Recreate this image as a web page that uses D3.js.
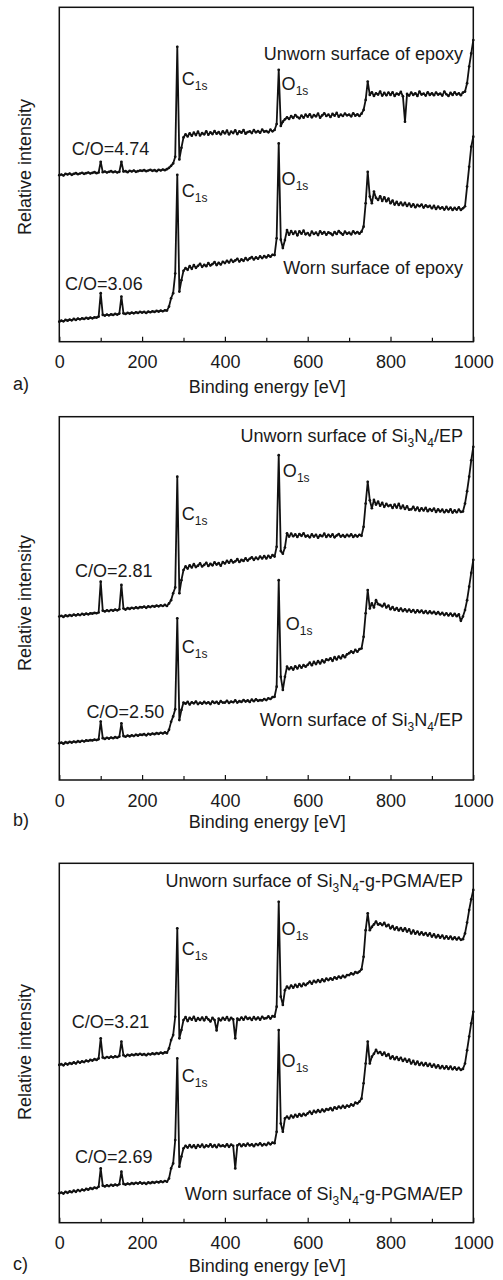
<!DOCTYPE html>
<html><head><meta charset="utf-8">
<script src="https://cdn.jsdelivr.net/npm/d3@7"></script>
<style>
body{margin:0;background:#fff}
text{font-family:"Liberation Sans",Arial,Helvetica,sans-serif;fill:#1a1a1a}
</style>
</head><body>
<svg id="chart" width="503" height="1280"></svg>
<script>
// ---------- DATA ----------
// Binding-energy sampling grid of the survey spectra (eV)
const energies = d3.range(0, 1001, 5);
const xTicksMajor = [0, 200, 400, 600, 800, 1000];
const xTicksMinor = [100, 300, 500, 700, 900];
const panelLetters = ["a)", "b)", "c)"];
const xTitle = "Binding energy [eV]";
const yTitle = "Relative intensity";

// Relative intensity (a.u., 0-100 per panel) at each grid energy
const unwornEpoxy = [
49.8,50.0,49.7,50.2,50.0,50.3,49.9,50.2,50.4,50.1,50.3,50.5,50.2,50.4,50.6,50.3,50.5,50.7,50.4,50.6,
53.8,50.7,50.9,50.6,50.8,51.0,50.7,50.9,50.6,50.8,53.8,50.9,51.0,50.7,51.1,50.9,51.2,50.8,51.0,51.2,
51.1,51.3,51.0,51.2,51.4,51.1,51.3,51.0,51.4,51.2,51.5,51.3,51.6,52.0,52.6,53.3,55.3,88.2,54.5,58.0,
61.1,62.0,61.4,62.3,61.6,62.5,61.8,62.8,61.7,62.4,62.0,62.9,61.9,62.6,62.1,63.0,62.2,62.7,62.0,62.9,
62.3,63.1,62.0,62.8,62.4,63.2,62.1,62.9,62.5,63.3,62.2,62.7,62.9,62.4,63.3,62.6,63.0,62.5,63.4,62.8,
63.0,62.6,63.4,62.9,63.3,65.1,81.3,64.5,65.8,66.5,67.1,66.6,67.5,66.9,67.8,67.2,66.8,67.6,67.0,67.9,
67.3,68.0,67.1,67.8,67.4,68.2,67.0,67.7,68.3,67.5,67.9,67.2,68.1,67.6,68.4,67.3,67.9,67.5,68.2,67.7,
67.9,67.4,68.3,67.6,68.0,67.5,68.2,69.3,72.3,77.8,73.8,74.6,73.5,74.3,73.9,74.8,73.6,74.4,73.7,74.5,
73.8,74.6,73.5,74.2,73.9,74.7,73.4,65.8,74.1,73.6,74.5,73.8,74.3,73.5,74.8,73.9,74.2,73.6,74.6,73.8,
74.3,73.7,74.5,73.9,74.2,73.6,74.8,74.0,73.5,74.4,73.8,74.6,73.9,74.3,73.7,74.5,74.8,77.3,82.3,86.2,
90.2];
const wornEpoxy = [
6.0,6.3,6.1,6.5,6.3,6.6,6.4,6.8,6.5,6.9,6.7,7.0,6.8,7.1,6.9,7.2,7.0,7.3,7.2,7.5,
14.5,8.0,7.8,8.1,7.9,8.2,8.0,8.3,8.1,8.4,13.5,8.5,8.3,8.6,8.4,8.7,8.5,8.8,8.6,8.9,
8.7,8.9,8.6,9.0,8.8,9.1,8.9,9.2,9.0,9.3,9.1,9.4,9.3,10.5,13.0,14.5,20.4,49.9,15.0,18.4,
21.2,22.0,21.5,22.6,21.8,22.9,22.1,22.7,23.3,22.4,23.0,22.6,23.5,22.8,23.2,23.8,22.9,23.6,23.1,23.9,
23.5,24.2,23.7,24.5,23.9,24.3,24.8,24.0,24.6,24.2,25.0,24.4,24.9,25.3,24.6,25.2,24.8,25.5,25.0,25.6,
25.2,25.8,25.4,26.0,25.9,30.9,59.3,30.5,28.0,30.4,33.4,32.0,33.1,32.2,32.9,31.8,33.0,32.3,33.2,32.1,
32.5,31.8,32.9,32.2,32.6,31.9,33.0,32.3,32.8,32.0,32.7,32.4,31.9,32.8,32.2,33.1,32.5,32.0,32.9,32.3,
32.6,32.1,33.0,32.4,32.8,32.3,32.9,34.4,41.4,50.8,43.4,41.4,44.9,43.0,42.4,43.5,42.1,43.2,42.0,42.8,
41.4,42.2,41.0,41.8,40.9,41.6,40.8,41.5,40.6,41.3,40.4,41.1,40.2,40.9,40.5,41.0,40.1,40.8,40.3,40.6,
39.9,40.6,39.7,40.4,39.8,40.2,39.5,40.3,39.6,40.1,39.4,40.0,39.5,40.2,39.4,39.9,40.5,46.4,52.3,58.3,
61.3];
const unwornSiEP = [
45.0,45.2,44.9,45.3,45.1,45.4,45.2,45.5,45.3,45.6,45.4,45.7,45.5,45.8,45.6,45.9,45.8,46.0,45.9,46.1,
54.6,46.6,46.4,46.7,46.5,46.8,46.6,46.9,46.7,47.0,53.7,47.2,46.9,47.3,47.1,47.4,47.2,47.5,47.3,47.6,
47.5,47.7,47.4,47.8,47.6,47.9,47.7,48.0,47.8,48.1,47.9,48.2,47.9,48.6,49.5,51.4,53.0,83.5,51.4,55.0,
57.8,58.8,58.2,59.1,58.5,59.4,58.6,59.0,59.6,58.8,59.2,59.8,58.9,59.5,59.1,59.9,59.3,59.7,59.0,60.0,
59.6,60.3,59.8,60.5,59.9,60.2,60.8,60.0,60.6,60.3,61.0,60.4,60.9,61.3,60.6,61.2,60.8,61.5,61.0,61.6,
61.0,61.7,61.2,61.9,61.5,64.2,89.4,63.0,62.3,64.0,67.9,67.0,67.8,67.1,67.6,66.9,67.7,67.2,67.9,67.0,
67.3,66.8,67.6,67.0,67.5,66.7,67.4,67.1,67.8,66.9,67.5,67.0,67.6,66.8,67.3,67.7,67.0,67.4,66.9,67.5,
67.1,67.6,66.9,67.4,67.0,67.5,67.2,69.7,76.1,82.1,77.0,74.8,77.1,75.8,76.6,75.5,76.3,75.2,76.0,75.4,
75.7,74.9,75.8,75.0,76.0,74.8,75.5,74.6,75.3,74.4,74.5,75.2,74.3,75.0,74.1,74.8,74.2,74.9,74.0,74.6,
74.1,74.7,73.8,74.5,73.9,74.4,73.7,74.3,73.8,74.5,73.6,74.2,73.7,74.4,73.8,73.9,76.1,79.5,83.5,88.0,
91.7];
const wornSiEP = [
10.1,10.3,10.0,10.4,10.2,10.5,10.3,10.6,10.4,10.7,10.5,10.8,10.6,10.9,10.8,11.0,10.9,11.1,11.0,11.2,
16.1,11.5,11.3,11.6,11.4,11.7,11.5,11.8,11.6,11.9,15.6,12.1,11.9,12.2,12.0,12.3,12.1,12.4,12.2,12.5,
12.4,12.6,12.3,12.7,12.5,12.8,12.6,12.9,12.7,13.0,12.8,13.1,12.8,13.8,16.0,17.5,19.5,44.5,16.5,19.3,
21.3,21.0,21.5,20.8,21.4,21.1,21.6,20.9,21.3,21.0,21.5,21.1,21.4,20.9,21.6,21.2,21.5,21.0,21.7,21.3,
21.3,21.8,21.2,21.6,21.4,21.9,21.3,21.7,21.5,22.0,21.6,21.9,21.5,22.1,21.7,22.2,21.8,22.0,21.9,22.3,
22.0,22.5,22.3,22.8,22.9,25.7,55.0,28.4,24.8,28.4,31.2,30.5,31.0,30.4,31.3,30.7,31.5,30.9,31.6,31.2,
31.7,32.3,31.6,32.5,31.9,32.7,32.1,32.9,32.4,33.2,33.0,33.5,32.8,33.8,33.2,34.0,33.5,34.3,33.8,34.6,
34.9,35.4,35.0,35.8,35.3,36.0,36.2,39.4,45.9,52.3,47.2,48.6,47.5,49.5,48.4,48.2,47.8,48.5,47.5,48.0,
47.0,47.6,46.8,47.3,46.6,47.2,46.5,47.0,46.4,46.9,46.3,46.8,46.1,46.7,46.2,46.6,46.0,46.5,45.9,46.4,
45.9,46.3,45.7,46.2,45.6,46.0,45.4,45.9,45.3,45.8,45.2,45.7,45.1,45.6,43.8,45.0,46.8,49.5,53.2,57.0,
60.6];
const unwornPGMA = [
43.9,44.1,43.8,44.3,44.0,44.4,44.2,44.6,44.3,44.8,44.5,44.9,44.7,45.1,44.9,45.3,45.1,45.5,45.3,45.7,
51.3,46.0,45.8,46.1,45.9,46.2,46.0,46.3,46.1,46.4,50.4,46.6,46.3,46.7,46.5,46.8,46.6,46.9,46.7,47.0,
46.7,46.9,46.6,47.0,46.8,47.1,46.9,47.2,47.0,47.3,47.1,47.4,47.3,48.5,50.8,52.2,57.3,81.9,51.3,53.6,
56.4,57.2,56.1,57.0,56.5,57.3,56.2,56.9,56.4,57.1,56.3,57.2,56.6,56.0,57.0,56.4,53.5,56.8,56.3,57.0,
56.5,57.2,56.3,57.0,56.6,51.3,56.8,56.4,57.1,56.5,57.3,56.7,57.0,56.4,57.2,56.6,57.1,56.5,57.3,56.8,
56.9,57.4,56.8,57.5,57.3,60.1,89.3,62.9,60.6,64.7,65.7,65.2,66.0,65.4,66.2,65.6,66.4,65.8,66.5,66.1,
66.6,67.1,66.5,67.3,66.9,67.5,67.0,67.7,67.2,67.9,67.5,68.0,67.6,68.3,67.9,68.5,68.1,68.7,68.3,68.9,
68.9,69.4,69.1,69.7,69.5,69.9,70.5,74.0,81.4,86.1,81.4,82.3,83.0,83.8,82.9,83.3,82.8,83.4,82.5,82.9,
81.9,82.5,81.6,82.2,81.4,82.0,81.2,81.9,81.0,81.6,80.5,81.3,80.4,81.0,80.2,80.8,80.1,80.6,79.9,80.5,
79.6,80.2,79.4,80.0,79.3,79.9,79.1,79.7,79.0,79.6,78.9,79.4,78.8,79.3,78.7,78.9,80.5,83.5,87.0,90.0,
92.6];
const wornPGMA = [
8.2,8.4,8.1,8.6,8.3,8.7,8.5,8.9,8.6,9.1,8.8,9.2,9.0,9.4,9.2,9.6,9.4,9.8,9.6,10.0,
15.1,10.3,10.1,10.4,10.2,10.5,10.3,10.6,10.4,10.7,14.2,10.8,10.6,10.9,10.7,11.0,10.8,11.1,10.9,11.2,
10.9,11.1,10.8,11.2,11.0,11.3,11.1,11.4,11.2,11.5,11.3,11.6,11.4,12.3,15.1,16.5,23.0,45.7,15.6,18.4,
20.7,21.4,20.9,21.6,21.0,21.5,20.8,21.6,21.1,21.7,21.0,21.5,21.2,21.8,21.1,21.6,21.0,21.7,21.3,21.5,
21.2,21.8,21.1,21.7,21.4,15.1,21.5,21.9,21.3,21.8,21.4,22.0,21.5,21.8,21.3,21.9,21.6,22.1,21.5,21.9,
21.6,22.2,21.8,22.3,22.1,25.3,53.6,27.6,25.3,29.0,29.5,29.0,29.8,29.3,30.0,29.5,30.2,29.7,30.3,29.9,
30.4,30.9,30.3,31.1,30.7,31.3,30.8,31.5,31.0,31.6,31.4,31.9,31.3,32.1,31.7,32.3,31.9,32.5,32.0,32.6,
32.3,32.9,32.6,33.4,33.2,33.7,34.5,38.8,44.3,50.4,44.3,46.2,47.0,48.1,47.2,47.5,46.7,47.3,46.4,46.9,
45.7,46.3,45.5,46.1,45.3,45.9,45.0,45.6,44.8,45.4,44.3,45.0,44.1,44.8,43.9,44.5,43.8,44.4,43.6,44.2,
43.4,44.0,43.2,43.8,43.0,43.6,42.9,43.5,42.8,43.4,42.7,43.2,42.6,43.1,42.5,42.8,44.3,48.0,51.8,55.5,
58.7];

// Annotation texts: [segment, isSubscript]
const C1s = [["C",0],["1s",1]];
const O1s = [["O",0],["1s",1]];
const textsA = [[["Unworn surface of epoxy",0]], [["Worn surface of epoxy",0]], [["C/O=4.74",0]], [["C/O=3.06",0]]];
const textsB = [[["Unworn surface of Si",0],["3",1],["N",0],["4",1],["/EP",0]],
                [["Worn surface of Si",0],["3",1],["N",0],["4",1],["/EP",0]],
                [["C/O=2.81",0]], [["C/O=2.50",0]]];
const textsC = [[["Unworn surface of Si",0],["3",1],["N",0],["4",1],["-g-PGMA/EP",0]],
                [["Worn surface of Si",0],["3",1],["N",0],["4",1],["-g-PGMA/EP",0]],
                [["C/O=3.21",0]], [["C/O=2.69",0]]];

// ---------- LAYOUT ----------
const FONT = '"Liberation Sans",Arial,Helvetica,sans-serif';
const L = 59.3, R = 473.3;
const svg = d3.select("#chart");
const x = d3.scaleLinear().domain([0, 1000]).range([L, R]);

const panels = [
  {top: 7.3, bottom: 341.7, titleY: 393, letterY: 390, yTitleC: 167,
   series: [unwornEpoxy, wornEpoxy], texts: textsA,
   pos: {unworn:[975,84.2], worn:[975,20.2], coU:[30,55.8], coW:[14,15.5],
         c1U:[296,76.8], o1U:[537,75.3], c1W:[296,43.4], o1W:[537,46.9]}},
  {top: 416.7, bottom: 780, titleY: 828, letterY: 826, yTitleC: 603,
   series: [unwornSiEP, wornSiEP], texts: textsB,
   pos: {unworn:[975,93.1], worn:[975,14.9], coU:[38,56.0], coW:[66,17.0],
         c1U:[296,71.6], o1U:[540,83.5], c1W:[296,34.9], o1W:[547,41.3]}},
  {top: 863.3, bottom: 1222.7, titleY: 1272, letterY: 1270, yTitleC: 1052,
   series: [unwornPGMA, wornPGMA], texts: textsC,
   pos: {unworn:[975,93.5], worn:[975,6.3], coU:[30,54.1], coW:[38,16.5],
         c1U:[296,74.5], o1U:[537,80.0], c1W:[296,39.2], o1W:[537,43.4]}}
];

function drawLabel(g, parts, px, py, anchor) {
  const t = g.append("text").attr("x", px).attr("y", py)
    .attr("text-anchor", anchor).attr("font-size", 18).attr("font-family", FONT);
  let shifted = false;
  parts.forEach(([s, sub]) => {
    const ts = t.append("tspan").text(s);
    if (sub) { ts.attr("font-size", 12); if (!shifted) { ts.attr("dy", 5); shifted = true; } }
    else if (shifted) { ts.attr("dy", -5); shifted = false; }
  });
}

panels.forEach((p, i) => {
  const y = d3.scaleLinear().domain([0, 100]).range([p.bottom, p.top]);
  const g = svg.append("g");

  // spectra
  const line = d3.line().x((d, j) => x(energies[j])).y(d => y(d));
  p.series.forEach(s => {
    g.append("path").datum(s).attr("d", line)
      .attr("fill", "none").attr("stroke", "#111").attr("stroke-width", 1.8)
      .attr("stroke-linejoin", "round");
    g.append("g").selectAll("circle").data(s).enter().append("circle")
      .attr("cx", (d, j) => x(energies[j])).attr("cy", d => y(d))
      .attr("r", 1.35).attr("fill", "#111");
  });

  // frame
  g.append("rect").attr("x", L).attr("y", p.top)
    .attr("width", R - L).attr("height", p.bottom - p.top)
    .attr("fill", "none").attr("stroke", "#111").attr("stroke-width", 1.5);

  // x axis (inward ticks)
  const axMaj = d3.axisBottom(x).tickValues(xTicksMajor).tickSize(-5)
    .tickPadding(14).tickFormat(d3.format("d"));
  const ag = g.append("g").attr("transform", `translate(0,${p.bottom})`).call(axMaj)
    .attr("font-size", 18).attr("font-family", FONT);
  ag.select(".domain").remove();
  ag.selectAll("line").attr("stroke", "#111").attr("stroke-width", 1.2);
  ag.selectAll("text").attr("fill", "#1a1a1a");
  const axMin = d3.axisBottom(x).tickValues(xTicksMinor).tickSize(-4).tickFormat("");
  const mg = g.append("g").attr("transform", `translate(0,${p.bottom})`).call(axMin);
  mg.select(".domain").remove();
  mg.selectAll("line").attr("stroke", "#111").attr("stroke-width", 1.2);

  // titles
  g.append("text").attr("x", (L + R) / 2 + 1).attr("y", p.titleY)
    .attr("text-anchor", "middle").attr("font-size", 18).attr("font-family", FONT).text(xTitle);
  g.append("text").attr("transform", `translate(31,${p.yTitleC}) rotate(-90)`)
    .attr("text-anchor", "middle").attr("font-size", 18).attr("font-family", FONT).text(yTitle);
  g.append("text").attr("x", 13).attr("y", p.letterY)
    .attr("font-size", 18).attr("font-family", FONT).text(panelLetters[i]);

  // annotations
  const P = p.pos;
  const at = k => [x(P[k][0]), y(P[k][1])];
  drawLabel(g, p.texts[0], ...at("unworn"), "end");
  drawLabel(g, p.texts[1], ...at("worn"), "end");
  drawLabel(g, p.texts[2], ...at("coU"), "start");
  drawLabel(g, p.texts[3], ...at("coW"), "start");
  drawLabel(g, C1s, ...at("c1U"), "start");
  drawLabel(g, O1s, ...at("o1U"), "start");
  drawLabel(g, C1s, ...at("c1W"), "start");
  drawLabel(g, O1s, ...at("o1W"), "start");
});
</script>
</body></html>
